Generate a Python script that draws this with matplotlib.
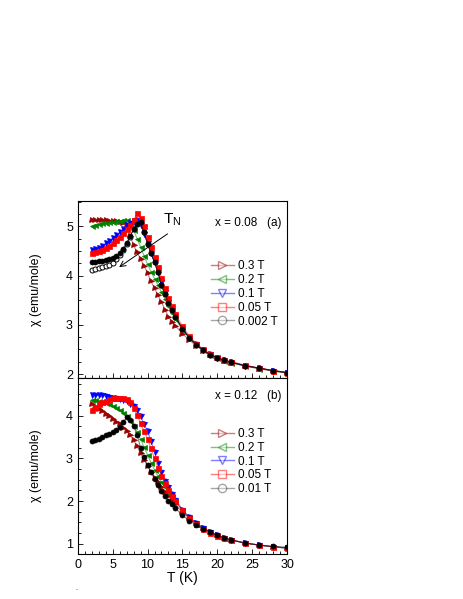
import numpy as np
import matplotlib.pyplot as plt
from matplotlib.lines import Line2D
from matplotlib.ticker import MultipleLocator

plt.rcParams['font.family'] = ['Liberation Sans', 'DejaVu Sans']
plt.rcParams['mathtext.fontset'] = 'custom'
plt.rcParams['mathtext.rm'] = 'Liberation Sans'

# temperature grid (K)
T = [2, 2.5, 3, 3.5, 4, 4.5, 5, 5.5, 6, 6.5, 7, 7.5, 8, 8.5, 9, 9.5, 10, 10.5,
     11, 11.5, 12, 12.5, 13, 13.5, 14, 15, 16, 17, 18, 19, 20, 21, 22, 24, 26, 28, 30]

# ---- x = 0.08 ----
a_03 = [5.12, 5.12, 5.12, 5.12, 5.12, 5.11, 5.11, 5.10, 5.09, 5.07, 5.02, 4.80, 4.62, 4.47,
        4.33, 4.20, 4.05, 3.88, 3.74, 3.60, 3.46, 3.31, 3.16, 3.06, 2.98, 2.82, 2.69, 2.57,
        2.47, 2.39, 2.32, 2.27, 2.23, 2.16, 2.11, 2.06, 2.02]
a_02 = [5.00, 5.02, 5.04, 5.06, 5.07, 5.08, 5.09, 5.10, 5.11, 5.12, 5.12, 5.08, 4.92, 4.75,
        4.58, 4.40, 4.23, 4.08, 3.94, 3.80, 3.66, 3.52, 3.38, 3.25, 3.12, 2.90, 2.74, 2.60,
        2.48, 2.39, 2.32, 2.27, 2.23, 2.16, 2.11, 2.06, 2.02]
a_01 = [4.51, 4.54, 4.57, 4.61, 4.66, 4.71, 4.76, 4.82, 4.88, 4.95, 5.02, 5.07, 5.11, 5.12,
        5.03, 4.85, 4.66, 4.46, 4.27, 4.07, 3.86, 3.66, 3.47, 3.31, 3.17, 2.93, 2.74, 2.60,
        2.49, 2.40, 2.33, 2.28, 2.24, 2.17, 2.12, 2.07, 2.03]
a_005 = [4.45, 4.47, 4.50, 4.53, 4.57, 4.61, 4.66, 4.72, 4.79, 4.87, 4.95, 5.03, 5.12, 5.27,
         5.18, 5.00, 4.78, 4.58, 4.38, 4.18, 3.95, 3.75, 3.55, 3.38, 3.22, 2.97, 2.77, 2.62,
         2.50, 2.41, 2.34, 2.29, 2.25, 2.18, 2.12, 2.07, 2.03]
a_0002 = [4.27, 4.28, 4.29, 4.30, 4.32, 4.34, 4.36, 4.40, 4.46, 4.55, 4.66, 4.80, 4.95, 5.05,
          5.08, 4.88, 4.65, 4.45, 4.27, 4.07, 3.80, 3.62, 3.45, 3.30, 3.15, 2.92, 2.73, 2.59,
          2.48, 2.39, 2.33, 2.28, 2.24, 2.17, 2.12, 2.07, 2.03]
a_0002b = [4.12, 4.14, 4.16, 4.18, 4.20, 4.22, 4.26, 4.33, 4.42, 4.52, 4.64, 4.79, 4.94, 5.05,
           5.08, 4.88, 4.65, 4.45, 4.27, 4.07, 3.80, 3.62, 3.45, 3.30, 3.15, 2.92, 2.73, 2.59,
           2.48, 2.39, 2.33, 2.28, 2.24, 2.17, 2.12, 2.07, 2.03]

# ---- x = 0.12 ----
b_03 = [4.26, 4.21, 4.16, 4.10, 4.04, 3.98, 3.92, 3.86, 3.80, 3.72, 3.64, 3.54, 3.42, 3.28,
        3.12, 2.96, 2.82, 2.68, 2.55, 2.44, 2.33, 2.22, 2.12, 2.02, 1.92, 1.74, 1.60, 1.48,
        1.37, 1.28, 1.20, 1.14, 1.09, 1.02, 0.97, 0.93, 0.90]
b_02 = [4.37, 4.36, 4.34, 4.32, 4.30, 4.27, 4.23, 4.18, 4.13, 4.07, 3.98, 3.88, 3.76, 3.62,
        3.45, 3.26, 3.08, 2.90, 2.73, 2.58, 2.45, 2.32, 2.20, 2.09, 1.99, 1.78, 1.60, 1.47,
        1.36, 1.27, 1.19, 1.13, 1.09, 1.02, 0.97, 0.93, 0.90]
b_01 = [4.49, 4.49, 4.48, 4.47, 4.46, 4.44, 4.42, 4.40, 4.38, 4.36, 4.33, 4.28, 4.22, 4.12,
        3.98, 3.80, 3.63, 3.40, 3.15, 2.90, 2.68, 2.48, 2.32, 2.17, 2.03, 1.80, 1.62, 1.48,
        1.37, 1.27, 1.20, 1.14, 1.09, 1.02, 0.97, 0.93, 0.90]
b_005 = [4.14, 4.20, 4.26, 4.31, 4.35, 4.38, 4.40, 4.41, 4.42, 4.42, 4.38, 4.31, 4.18, 4.02,
         3.82, 3.63, 3.46, 3.23, 3.00, 2.78, 2.58, 2.42, 2.27, 2.12, 2.00, 1.78, 1.60, 1.46,
         1.35, 1.26, 1.19, 1.13, 1.09, 1.02, 0.97, 0.93, 0.90]
b_001 = [3.40, 3.43, 3.46, 3.50, 3.54, 3.58, 3.62, 3.67, 3.74, 3.84, 3.96, 3.90, 3.75, 3.55,
         3.25, 3.02, 2.84, 2.68, 2.52, 2.38, 2.24, 2.12, 2.01, 1.92, 1.83, 1.67, 1.54, 1.44,
         1.35, 1.28, 1.20, 1.14, 1.09, 1.01, 0.97, 0.94, 0.92]

cols = ['#990000', '#008000', '#0000ff', '#ff0000', 'black']
marks = ['>', '<', 'v', 's', 'o']
labs_a = ['0.3 T', '0.2 T', '0.1 T', '0.05 T', '0.002 T']
labs_b = ['0.3 T', '0.2 T', '0.1 T', '0.05 T', '0.01 T']

fig = plt.figure(figsize=(4.63, 5.99), dpi=100)
ax1 = fig.add_axes([0.168, 0.369, 0.452, 0.295])
ax2 = fig.add_axes([0.168, 0.075, 0.452, 0.294])


def draw(ax, series, labs):
    for y, c, m in zip(series, cols, marks):
        ax.plot(T, y, '-', color=c, lw=0.8, alpha=0.5)
        ax.plot(T, y, m, color=c, ms=3.6, mec=c, mfc=c, mew=0.5)
    hs = [Line2D([0], [0], color=c, lw=1.0, alpha=0.5 if c != 'black' else 0.35,
                 marker=m, ms=6, mfc='white', mec=c, mew=1.0)
          for c, m in zip(cols, marks)]
    return hs


# lower branch of the 0.002 T data, drawn underneath
ax1.plot(T, a_0002b, 'o-', color='black', lw=0.6, ms=3.6, mfc='white', mew=0.7)
hs = draw(ax1, [a_03, a_02, a_01, a_005, a_0002], labs_a)
ax1.legend(hs, labs_a, loc='center left', bbox_to_anchor=(0.635, 0.475), frameon=False,
           fontsize=8.5, handlelength=2.0, handletextpad=0.35, labelspacing=0.15,
           borderpad=0, borderaxespad=0)
hs = draw(ax2, [b_03, b_02, b_01, b_005, b_001], labs_b)
ax2.legend(hs, labs_b, loc='center left', bbox_to_anchor=(0.635, 0.525), frameon=False,
           fontsize=8.5, handlelength=2.0, handletextpad=0.35, labelspacing=0.15,
           borderpad=0, borderaxespad=0)

ax1.set_ylim(1.92, 5.51)
ax2.set_ylim(0.76, 4.88)
for ax in (ax1, ax2):
    ax.set_xlim(0, 30)
    ax.xaxis.set_major_locator(MultipleLocator(5))
    ax.xaxis.set_minor_locator(MultipleLocator(1))
    ax.yaxis.set_major_locator(MultipleLocator(1))
    ax.yaxis.set_minor_locator(MultipleLocator(0.25))
    ax.tick_params(which='both', direction='in', top=False, right=False, labelsize=9,
                   width=0.6)
    ax.tick_params(which='major', length=3.5)
    ax.tick_params(which='minor', length=2)
    for s in ax.spines.values():
        s.set_linewidth(0.8)
    ax.set_ylabel('χ (emu/mole)', fontsize=9)
    ax.yaxis.set_label_coords(-0.17, 0.5)
ax1.tick_params(labelbottom=False)
ax2.set_xlabel('T (K)', fontsize=10, labelpad=0)

ax1.text(0.975, 0.875, 'x = 0.08   (a)', transform=ax1.transAxes, ha='right',
         va='center', fontsize=8.5)
ax2.text(0.975, 0.895, 'x = 0.12   (b)', transform=ax2.transAxes, ha='right',
         va='center', fontsize=8.5)
ax1.annotate('', xy=(5.6, 4.14), xytext=(13.2, 4.88),
             arrowprops=dict(arrowstyle='->', color='black', lw=0.7))
ax1.text(13.5, 5.13, r'T$_\mathrm{N}$', fontsize=11, ha='center', va='center')

fig.text(76 / 463, 1 - 589 / 599, '.', fontsize=5, ha='center', va='center')

fig.savefig('out.png', dpi=100)
